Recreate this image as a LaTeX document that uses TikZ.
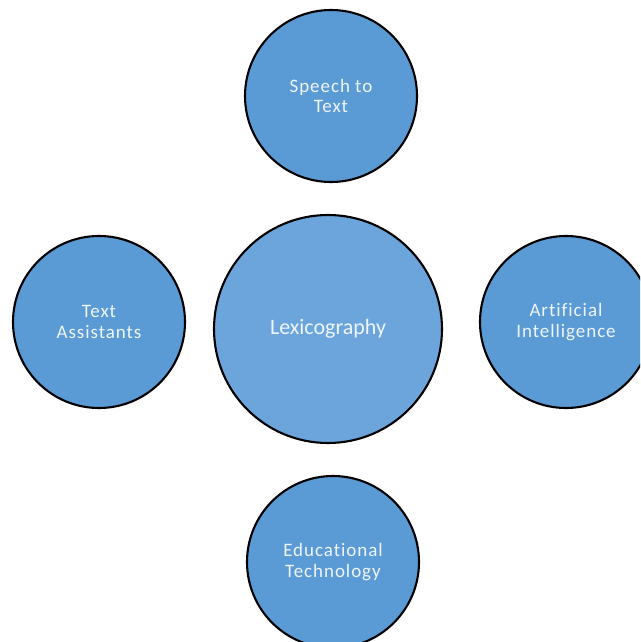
\documentclass[tikz,border=0pt]{standalone}
\usepackage{fontspec}
\setmainfont{Carlito}[Ligatures=NoCommon]
\newfontfamily\smallfam{Carlito}[Ligatures=NoCommon,LetterSpace=5]
\definecolor{bub}{HTML}{5B9BD5}
\definecolor{bubc}{HTML}{6BA5DC}
\definecolor{txt}{HTML}{EEF4FB}
\begin{document}
\begin{tikzpicture}[x=1pt,y=-1pt,
  bubble/.style={circle,draw=black,line width=2.1pt,fill=bub,text=txt,
    minimum size=#1,inner sep=0pt,align=center,
    font=\smallfam\fontsize{19}{20.5}\selectfont},
  bubble/.default=172pt]
\useasboundingbox (0,0) rectangle (640,642);
\clip (0,0) rectangle (640,642);
\node[bubble=228pt,fill=bubc,font=\rmfamily\fontsize{22}{24}\selectfont] (lex) at (328,329) {\raisebox{-3pt}{Lexicography}};
\node[bubble] (stt) at (331,96) {Speech to\\Text};
\node[bubble] (ta) at (99,322) {Text\\Assistants};
\node[bubble] (ai) at (566,322) {Artificial\\Intelligence};
\node[bubble] (et) at (333,562) {Educational\\Technology};
\end{tikzpicture}
\end{document}
